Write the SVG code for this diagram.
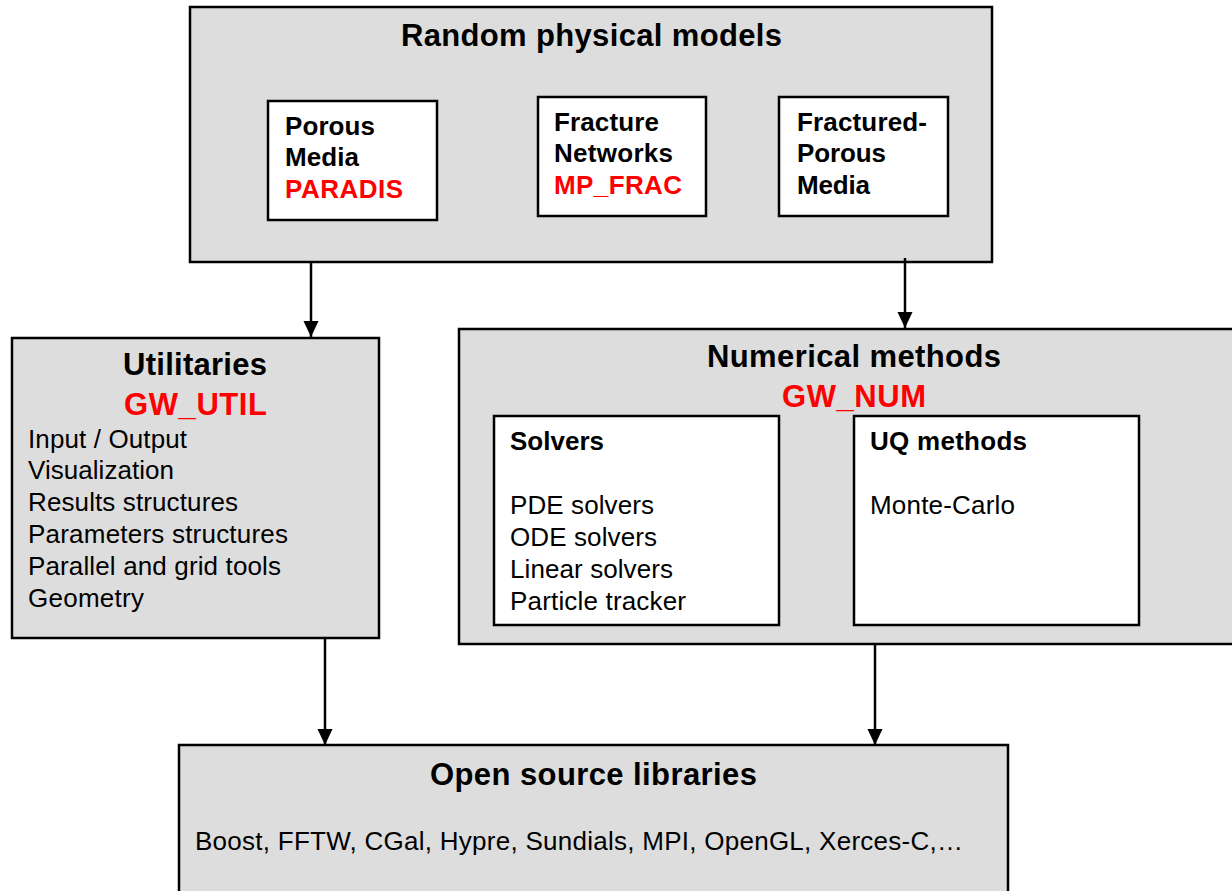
<svg xmlns="http://www.w3.org/2000/svg" width="1232" height="891" viewBox="0 0 1232 891">
<defs>
<marker id="ah" markerWidth="16" markerHeight="17" refX="17" refY="8" orient="auto" markerUnits="userSpaceOnUse" viewBox="0 0 17 16">
<path d="M0,0 L17,8 L0,16 Z" fill="#000"/>
</marker>
</defs>
<style>
.g{fill:#dddddd;stroke:#000;stroke-width:2.5}
.w{fill:#fff;stroke:#000;stroke-width:2.5}
text{font-family:"Liberation Sans",Arial,sans-serif;fill:#000}
.t{font-size:31px;font-weight:bold}
.b{font-size:26px;font-weight:bold}
.r{fill:#ff0000}
.n{font-size:26px}
.c{stroke:#000;stroke-width:2.5;fill:none}
</style>
<rect width="1232" height="891" fill="#fff"/>
<g id="random">
<rect class="g" x="190" y="7" width="802" height="255"/>
<text class="t" x="401" y="46" textLength="381" lengthAdjust="spacing">Random physical models</text>
</g>
<g id="porous">
<rect class="w" x="268" y="101" width="169" height="119"/>
<text class="b" x="285" y="135" textLength="90" lengthAdjust="spacing">Porous</text>
<text class="b" x="285" y="166" textLength="74" lengthAdjust="spacing">Media</text>
<text class="b r" x="285" y="198" textLength="118" lengthAdjust="spacing">PARADIS</text>
</g>
<g id="fracture">
<rect class="w" x="538" y="97" width="168" height="119"/>
<text class="b" x="554" y="131" textLength="105" lengthAdjust="spacing">Fracture</text>
<text class="b" x="554" y="162" textLength="119" lengthAdjust="spacing">Networks</text>
<text class="b r" x="554" y="194" textLength="128" lengthAdjust="spacing">MP_FRAC</text>
</g>
<g id="fracporous">
<rect class="w" x="779" y="97" width="169" height="119"/>
<text class="b" x="797" y="131" textLength="130" lengthAdjust="spacing">Fractured-</text>
<text class="b" x="797" y="162" textLength="89" lengthAdjust="spacing">Porous</text>
<text class="b" x="797" y="194" textLength="73" lengthAdjust="spacing">Media</text>
</g>
<g id="util">
<rect class="g" x="12" y="338" width="367" height="300"/>
<text class="t" x="123" y="375" textLength="144" lengthAdjust="spacing">Utilitaries</text>
<text class="t r" x="124" y="415" textLength="143" lengthAdjust="spacing">GW_UTIL</text>
<text class="n" x="28" y="448" textLength="159" lengthAdjust="spacing">Input / Output</text>
<text class="n" x="28" y="479" textLength="146" lengthAdjust="spacing">Visualization</text>
<text class="n" x="28" y="511" textLength="210" lengthAdjust="spacing">Results structures</text>
<text class="n" x="28" y="543" textLength="260" lengthAdjust="spacing">Parameters structures</text>
<text class="n" x="28" y="575" textLength="253" lengthAdjust="spacing">Parallel and grid tools</text>
<text class="n" x="28" y="607" textLength="116" lengthAdjust="spacing">Geometry</text>
</g>
<g id="num">
<rect class="g" x="459" y="329" width="785" height="315"/>
<text class="t" x="707" y="367" textLength="294" lengthAdjust="spacing">Numerical methods</text>
<text class="t r" x="782" y="407" textLength="144" lengthAdjust="spacing">GW_NUM</text>
</g>
<g id="solvers">
<rect class="w" x="494" y="416" width="285" height="209"/>
<text class="b" x="510" y="450" textLength="94" lengthAdjust="spacing">Solvers</text>
<text class="n" x="510" y="514" textLength="144" lengthAdjust="spacing">PDE solvers</text>
<text class="n" x="510" y="546" textLength="147" lengthAdjust="spacing">ODE solvers</text>
<text class="n" x="510" y="578" textLength="163" lengthAdjust="spacing">Linear solvers</text>
<text class="n" x="510" y="610" textLength="176" lengthAdjust="spacing">Particle tracker</text>
</g>
<g id="uq">
<rect class="w" x="854" y="416" width="285" height="209"/>
<text class="b" x="870" y="450" textLength="157" lengthAdjust="spacing">UQ methods</text>
<text class="n" x="870" y="514" textLength="145" lengthAdjust="spacing">Monte-Carlo</text>
</g>
<g id="oss">
<rect class="g" x="179" y="745" width="829" height="160"/>
<text class="t" x="430" y="785" textLength="327" lengthAdjust="spacing">Open source libraries</text>
<text class="n" x="195" y="850" textLength="768" lengthAdjust="spacing">Boost, FFTW, CGal, Hypre, Sundials, MPI, OpenGL, Xerces-C,…</text>
</g>
<g id="connectors">
<line class="c" x1="311" y1="262" x2="311" y2="337" marker-end="url(#ah)"/>
<line class="c" x1="905" y1="258" x2="905" y2="328" marker-end="url(#ah)"/>
<line class="c" x1="325" y1="638" x2="325" y2="745" marker-end="url(#ah)"/>
<line class="c" x1="875" y1="644" x2="875" y2="745" marker-end="url(#ah)"/>
</g>
</svg>
